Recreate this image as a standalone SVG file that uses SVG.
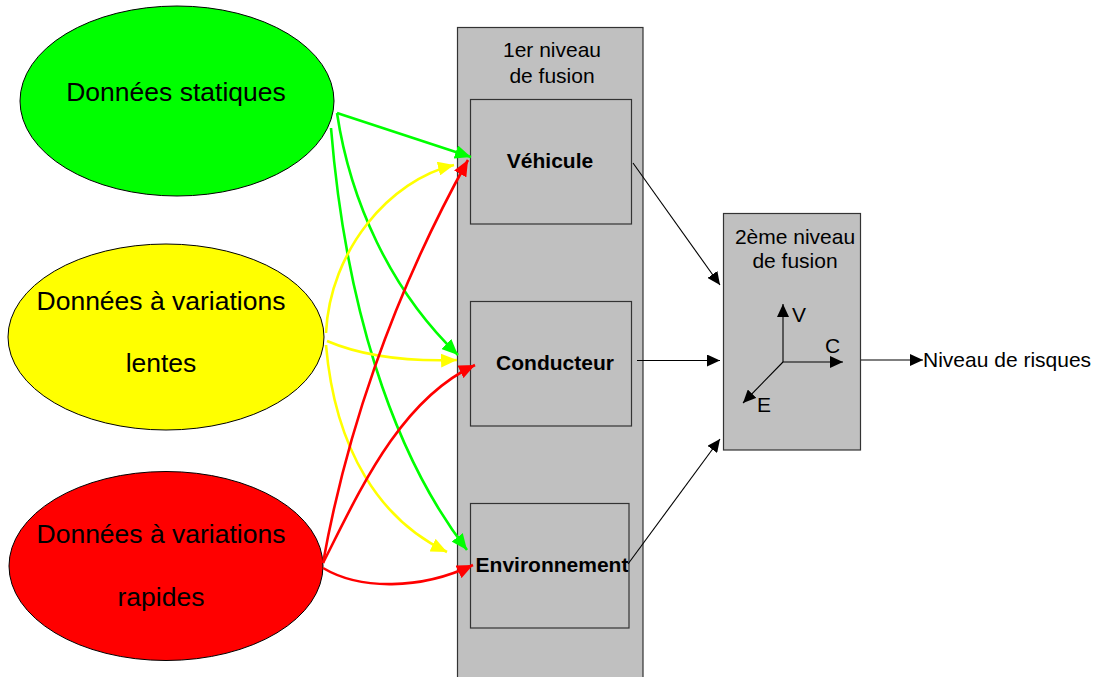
<svg xmlns="http://www.w3.org/2000/svg" width="1102" height="677" viewBox="0 0 1102 677">
<style>
text{font-family:"Liberation Sans",Arial,sans-serif;fill:#000}
.big{font-size:26.5px}
.mid{font-size:21px}
.b{font-weight:bold}
.box{fill:#C0C0C0;stroke:#333;stroke-width:1.2}
.ell{stroke:#000;stroke-width:1}
.g{fill:none;stroke:#00FF00;stroke-width:2.6}
.y{fill:none;stroke:#FFFF00;stroke-width:2.6}
.r{fill:none;stroke:#FF0000;stroke-width:2.6}
.k{fill:none;stroke:#000;stroke-width:1.1}
</style>
<defs>
<marker id="ag" markerUnits="userSpaceOnUse" markerWidth="18" markerHeight="14" refX="16" refY="7" orient="auto"><path d="M0,0 L16,7 L0,14 Z" fill="#00FF00"/></marker>
<marker id="ay" markerUnits="userSpaceOnUse" markerWidth="18" markerHeight="14" refX="16" refY="7" orient="auto"><path d="M0,0 L16,7 L0,14 Z" fill="#FFFF00"/></marker>
<marker id="ar" markerUnits="userSpaceOnUse" markerWidth="18" markerHeight="14" refX="16" refY="7" orient="auto"><path d="M0,0 L16,7 L0,14 Z" fill="#FF0000"/></marker>
<marker id="ak" markerUnits="userSpaceOnUse" markerWidth="14" markerHeight="12" refX="13" refY="6" orient="auto"><path d="M0,0 L13,6 L0,12 Z" fill="#000"/></marker>
</defs>
<g id="n-fusion1">
<rect class="box" x="457.5" y="27.5" width="185.5" height="660"/>
<text class="mid" x="552" y="57" text-anchor="middle">1er niveau</text>
<text class="mid" x="552" y="83" text-anchor="middle">de fusion</text>
</g>
<g id="n-vehicule">
<rect class="box" x="470.5" y="99.5" width="161" height="124.5"/>
<text class="mid b" x="550" y="168" text-anchor="middle">Véhicule</text>
</g>
<g id="n-conducteur">
<rect class="box" x="470.5" y="301.5" width="161" height="124.5"/>
<text class="mid b" x="555" y="370" text-anchor="middle">Conducteur</text>
</g>
<g id="n-environnement">
<rect class="box" x="470.5" y="503.5" width="158.5" height="124.5"/>
<text class="mid b" x="552" y="572" text-anchor="middle">Environnement</text>
</g>
<g id="n-statiques">
<ellipse class="ell" cx="177" cy="101" rx="157" ry="95" fill="#00FF00"/>
<text class="big" x="176" y="101" text-anchor="middle">Données statiques</text>
</g>
<g id="n-lentes">
<ellipse class="ell" cx="166" cy="337" rx="158" ry="93" fill="#FFFF00"/>
<text class="big" x="161" y="310" text-anchor="middle">Données à variations</text>
<text class="big" x="161" y="372" text-anchor="middle">lentes</text>
</g>
<g id="n-rapides">
<ellipse class="ell" cx="166" cy="566" rx="157" ry="94.5" fill="#FF0000"/>
<text class="big" x="161" y="543" text-anchor="middle">Données à variations</text>
<text class="big" x="161" y="606" text-anchor="middle">rapides</text>
</g>
<g id="n-fusion2">
<rect class="box" x="723.5" y="213.5" width="137" height="236.5"/>
<text class="mid" x="795" y="244" text-anchor="middle">2ème niveau</text>
<text class="mid" x="795" y="268" text-anchor="middle">de fusion</text>
<line class="k" x1="783" y1="362" x2="783" y2="304" marker-end="url(#ak)"/>
<line class="k" x1="783" y1="362" x2="843" y2="362" marker-end="url(#ak)"/>
<line class="k" x1="783" y1="362" x2="743" y2="403" marker-end="url(#ak)"/>
<text class="mid" x="792" y="322">V</text>
<text class="mid" x="825" y="353">C</text>
<text class="mid" x="757" y="412">E</text>
</g>
<g id="n-sortie">
<text class="mid" x="923" y="367">Niveau de risques</text>
</g>
<g id="connectors">
<path class="g" d="M337,113 L471,157" marker-end="url(#ag)"/>
<path class="g" d="M337,113 C350,200 390,290 458,355" marker-end="url(#ag)"/>
<path class="g" d="M331,128 C345,300 390,450 467,550" marker-end="url(#ag)"/>
<path class="y" d="M326,333 C330,250 390,180 454,165" marker-end="url(#ay)"/>
<path class="y" d="M327,341 C360,355 400,362 457,360" marker-end="url(#ay)"/>
<path class="y" d="M326,345 C335,450 380,520 447,552" marker-end="url(#ay)"/>
<path class="r" d="M323,563 C345,440 390,300 468,160" marker-end="url(#ar)"/>
<path class="r" d="M323,563 C360,490 400,400 475,365" marker-end="url(#ar)"/>
<path class="r" d="M323,568 C360,590 420,590 473,565" marker-end="url(#ar)"/>
<line class="k" x1="633" y1="163" x2="720" y2="285" marker-end="url(#ak)"/>
<line class="k" x1="637" y1="360.5" x2="720" y2="360.5" marker-end="url(#ak)"/>
<line class="k" x1="628" y1="564" x2="720" y2="439" marker-end="url(#ak)"/>
<line class="k" x1="861" y1="360" x2="923" y2="360" marker-end="url(#ak)"/>
</g>
</svg>
